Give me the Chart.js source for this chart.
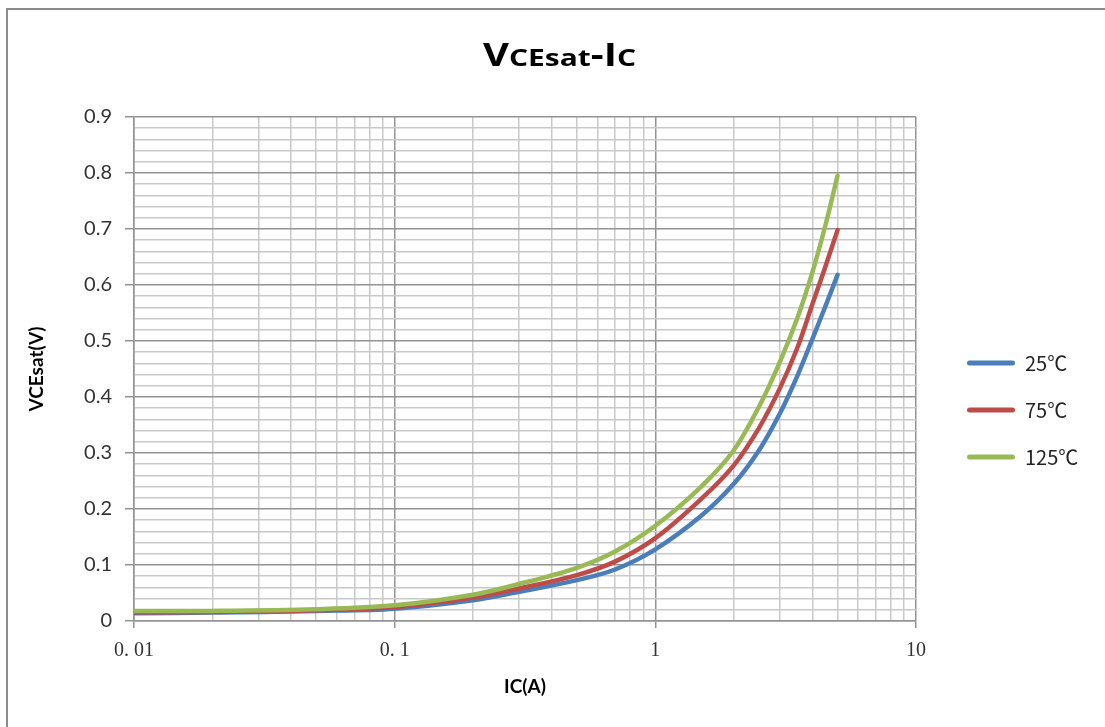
<!DOCTYPE html>
<html><head><meta charset="utf-8">
<script src="https://cdn.jsdelivr.net/npm/chart.js@4.4.1/dist/chart.umd.min.js"></script>
<style>
html,body{margin:0;padding:0;background:#fff;}
#wrap{position:relative;width:1105px;height:727px;overflow:hidden;}
#frame{position:absolute;left:6px;top:8px;width:1200px;height:800px;border-left:2px solid #8c8c8c;border-top:2px solid #8c8c8c;pointer-events:none;}
canvas{position:absolute;left:0;top:0;}
</style></head><body>
<div id="wrap"><canvas id="c" width="1105" height="727"></canvas><div id="frame"></div></div>
<script>
// Collector current IC (A)
const currents = [0.01, 0.02, 0.05, 0.1, 0.2, 0.3, 0.5, 0.7, 1, 1.5, 2, 2.5, 3, 3.5, 4, 4.5, 5];
// VCEsat (V) per temperature
const vce25  = [0.014, 0.015, 0.018, 0.022, 0.037, 0.052, 0.073, 0.092, 0.128, 0.188, 0.245, 0.305, 0.370, 0.437, 0.503, 0.563, 0.618];
const vce75  = [0.0155, 0.016, 0.019, 0.025, 0.042, 0.058, 0.082, 0.106, 0.148, 0.218, 0.278, 0.345, 0.415, 0.487, 0.565, 0.634, 0.698];
const vce125 = [0.018, 0.018, 0.021, 0.028, 0.047, 0.066, 0.095, 0.124, 0.170, 0.240, 0.305, 0.383, 0.462, 0.540, 0.622, 0.708, 0.795];
const seriesNames = ['25℃', '75℃', '125℃'];
const seriesColors = ['#4a7ebb', '#be4b48', '#98b954'];

// axis ticks
const xDecades = [0.01, 0.1, 1, 10];
const xDecadeLabels = ['0. 01', '0. 1', '1', '10'];
const xMultipliers = [1, 2, 3, 4, 5, 6, 7, 8, 9];
const yMajorTicks = [0, 0.1, 0.2, 0.3, 0.4, 0.5, 0.6, 0.7, 0.8, 0.9];
const yMajorLabels = ['0', '0.1', '0.2', '0.3', '0.4', '0.5', '0.6', '0.7', '0.8', '0.9'];
const yMinorSteps = [0, 0.02, 0.04, 0.06, 0.08];

const xTickValues = [];
xDecades.forEach((d, i) => {
  if (i === xDecades.length - 1) { xTickValues.push(d); return; }
  xMultipliers.forEach(m => xTickValues.push(+(d * m).toPrecision(6)));
});
const yTickValues = [];
yMajorTicks.forEach((t, i) => {
  if (i === yMajorTicks.length - 1) { yTickValues.push(t); return; }
  yMinorSteps.forEach(s => yTickValues.push(+(t + s).toFixed(4)));
});

const isXMajor = v => xDecades.some(d => Math.abs(v - d) < d * 1e-6);
const xLabel = v => { const i = xDecades.findIndex(d => Math.abs(v - d) < d * 1e-6); return i >= 0 ? xDecadeLabels[i] : ''; };
const isYMajor = v => yMajorTicks.some(t => Math.abs(v - t) < 1e-6);
const yLabel = v => { const i = yMajorTicks.findIndex(t => Math.abs(v - t) < 1e-6); return i >= 0 ? yMajorLabels[i] : ''; };

const MAJOR = '#939393', MINOR = '#c9c9c9';
const series = [vce25, vce75, vce125];

const titlePlugin = {
  id: 'mixedTitle',
  afterDraw(chart) {
    const ctx = chart.ctx;
    const parts = [['V', 32], ['CEsat', 24], ['-I', 32], ['C', 24]];
    ctx.save();
    ctx.fillStyle = '#000';
    ctx.textBaseline = 'alphabetic';
    let total = 0;
    parts.forEach(p => { ctx.font = 'bold ' + p[1] + 'px "Open Sans"'; p.push(ctx.measureText(p[0]).width); total += p[2]; });
    const targetW = 153, sx = targetW / total;
    ctx.translate(559.5 - targetW / 2, 66);
    ctx.scale(sx, 1);
    let x = 0;
    parts.forEach(p => { ctx.font = 'bold ' + p[1] + 'px "Open Sans"'; ctx.fillText(p[0], x, 0); x += p[2]; });
    ctx.restore();
  }
};

new Chart(document.getElementById('c'), {
  type: 'line',
  data: {
    datasets: series.map((vals, i) => ({
      label: seriesNames[i],
      data: currents.map((c, j) => ({ x: c, y: vals[j] })),
      borderColor: seriesColors[i],
      backgroundColor: seriesColors[i],
      borderWidth: 4.5,
      pointRadius: 0,
      pointHoverRadius: 0,
      fill: false,
      tension: 0.35,
      borderCapStyle: 'round',
      borderJoinStyle: 'round',
      order: 2 - i
    }))
  },
  options: {
    responsive: false,
    animation: false,
    devicePixelRatio: 1,
    layout: { padding: { left: 0, top: 117, right: 16.7, bottom: 0 } },
    plugins: {
      title: { display: false },
      tooltip: { enabled: false },
      legend: {
        position: 'right',
        fullSize: false,
        align: 'center',
        title: { display: true, text: '', font: { size: 10 }, padding: { top: 70, bottom: 0 } },
        labels: {
          boxWidth: 48,
          boxHeight: 5,
          padding: 27,
          useBorderRadius: true,
          borderRadius: 2.5,
          color: '#222',
          font: { family: "'Noto Sans CJK SC'", size: 20 },
          sort: (a, b) => a.datasetIndex - b.datasetIndex,
          generateLabels(chart) {
            const items = Chart.defaults.plugins.legend.labels.generateLabels(chart);
            items.forEach(it => { it.fillStyle = seriesColors[it.datasetIndex]; it.lineWidth = 0; });
            return items;
          }
        }
      }
    },
    scales: {
      x: {
        type: 'logarithmic',
        min: 0.01,
        max: 10,
        afterBuildTicks: s => { s.ticks = xTickValues.map(v => ({ value: v })); },
        afterFit: s => { s.height = 727 - 621; },
        ticks: {
          autoSkip: false, maxRotation: 0, minRotation: 0,
          callback: v => xLabel(v),
          color: '#333',
          padding: 11,
          font: { family: "'Liberation Serif'", size: 20 }
        },
        grid: {
          color: c => isXMajor(c.tick.value) ? MAJOR : MINOR,
          lineWidth: 1.5,
          tickLength: 7,
          tickColor: c => isXMajor(c.tick.value) ? MAJOR : 'rgba(0,0,0,0)'
        },
        border: { color: MAJOR, width: 1.5 },
        title: {
          display: true, text: 'IC(A)', color: '#000',
          font: { family: 'Lato', weight: 'bold', size: 19 },
          padding: { top: 0, bottom: 29 }
        }
      },
      y: {
        type: 'linear',
        min: 0,
        max: 0.9,
        afterBuildTicks: s => { s.ticks = yTickValues.map(v => ({ value: v })); },
        afterFit: s => { s.width = 134; },
        ticks: {
          autoSkip: false,
          callback: v => yLabel(v),
          color: '#333',
          padding: 13,
          font: { family: 'Lato', size: 20 }
        },
        grid: {
          color: c => isYMajor(c.tick.value) ? MAJOR : MINOR,
          lineWidth: 1.5,
          tickLength: 9,
          tickColor: c => isYMajor(c.tick.value) ? MAJOR : 'rgba(0,0,0,0)'
        },
        border: { color: MAJOR, width: 1.5 },
        title: {
          display: true, text: 'VCEsat(V)', color: '#000',
          font: { family: 'Lato', weight: 'bold', size: 19 },
          padding: { top: 25, bottom: 0 }
        }
      },
      spacer: {
        type: 'linear',
        position: 'right',
        display: true,
        grid: { display: false, drawOnChartArea: false, drawTicks: false },
        ticks: { display: false },
        border: { display: false },
        afterFit: s => { s.width = 24; }
      }
    }
  },
  plugins: [titlePlugin]
});
</script>
</body></html>
